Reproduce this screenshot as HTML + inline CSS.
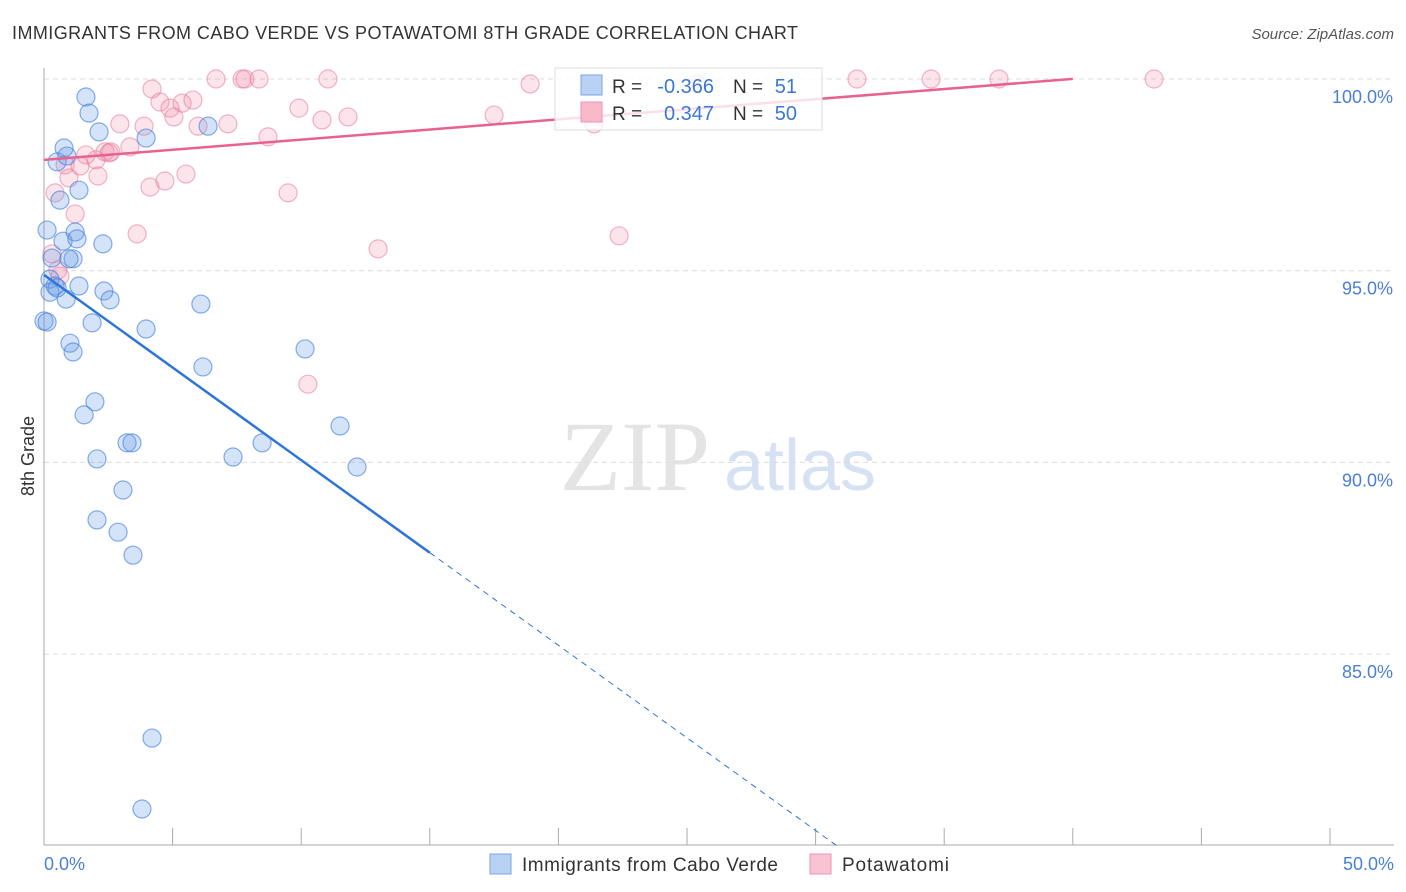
<!DOCTYPE html>
<html><head><meta charset="utf-8"><style>
body{margin:0;background:#fff;font-family:"Liberation Sans",sans-serif;}
svg{display:block}
</style></head><body>
<svg id="c" width="1406" height="892"></svg>
<script>
const blueX=[1.63,1.75,2.14,3.97,6.38,0.78,0.51,0.89,1.36,0.62,0.12,1.21,0.74,1.28,2.29,0.31,1.13,0.97,0.23,0.43,1.36,2.33,2.57,0.86,0.23,6.10,0.0,1.87,3.97,1.01,1.13,10.15,6.18,1.98,1.56,11.51,3.23,3.42,8.48,7.35,2.06,12.17,3.07,2.06,2.88,3.46,4.20,3.81,0.51,0.12];
const blueY=[99.53,99.11,98.62,98.46,98.77,98.20,97.84,97.99,97.10,96.84,96.06,96.01,95.77,95.83,95.70,95.33,95.31,95.31,94.78,94.60,94.60,94.47,94.24,94.26,94.44,94.13,93.69,93.64,93.48,93.11,92.88,92.96,92.49,91.58,91.24,90.95,90.51,90.51,90.51,90.14,90.09,89.88,89.28,88.50,88.18,87.58,82.81,80.96,94.55,93.66];
const pinkX=[4.20,6.69,7.70,7.81,8.36,11.04,18.90,25.39,31.61,34.49,37.13,43.16,4.51,4.90,5.37,5.79,5.05,2.95,3.89,7.15,5.99,9.91,10.81,11.82,17.50,21.38,8.71,3.34,1.63,2.37,2.60,2.02,0.82,1.40,2.10,0.43,4.12,4.70,5.52,9.49,1.21,3.62,12.99,22.36,0.31,0.54,0.62,10.26,0.97,2.53];
const pinkY=[99.74,100,100,100,100,100,99.87,99.87,100,100,100,100,99.40,99.24,99.37,99.45,99.01,98.83,98.77,98.83,98.77,99.24,98.93,99.01,99.06,98.83,98.49,98.23,98.02,98.10,98.10,97.89,97.76,97.73,97.47,97.03,97.18,97.34,97.52,97.03,96.48,95.96,95.57,95.91,95.44,95.02,94.86,92.04,97.42,98.07];
const yTicks=[100,95,90,85];
const yTickLabels=["100.0%","95.0%","90.0%","85.0%"];
const blueTrend={b0:94.89,slope:-0.483,solidEnd:15,end:30};
const pinkTrend={b0:97.89,slope:0.0528,end:40};

const NS="http://www.w3.org/2000/svg";
const svg=document.getElementById('c');
const sx=v=>44+v*25.72;
const sy=v=>79+(100-v)*38.34;
function el(tag,attrs,parent){const e=document.createElementNS(NS,tag);for(const k in attrs)e.setAttribute(k,attrs[k]);(parent||svg).appendChild(e);return e;}

let t=el('text',{x:12,y:39,'font-size':18,fill:'#333',textLength:786});t.textContent="IMMIGRANTS FROM CABO VERDE VS POTAWATOMI 8TH GRADE CORRELATION CHART";


t=el('text',{x:1394,y:39,'font-size':15,fill:'#555','text-anchor':'end','font-style':'italic'});t.textContent="Source: ZipAtlas.com";



t=el('text',{x:635,y:490,'font-size':100,fill:'#e4e4e4','text-anchor':'middle','font-family':'Liberation Serif,serif'});t.textContent="ZIP";


t=el('text',{x:800,y:490,'font-size':72,fill:'#d6e2f3','text-anchor':'middle'});t.textContent="atlas";



yTicks.forEach((v,i)=>{
  const g=el('line',{x1:44,x2:1394,y1:sy(v),y2:sy(v),stroke:'#dcdcdc','stroke-dasharray':'5,4'});
  
  
  const l=el('text',{x:1393,y:sy(v)+24,'font-size':18,fill:'#4a7fd4','text-anchor':'end'});l.textContent=yTickLabels[i];
  
  
});
let a=el('line',{x1:44,x2:44,y1:68,y2:845,stroke:'#aaa'});


a=el('line',{x1:44,x2:1394,y1:845,y2:845,stroke:'#aaa'});


for(let i=0;i<=10;i++){const tk=el('line',{x1:sx(i*5),x2:sx(i*5),y1:828,y2:845,stroke:'#aaa'});

}
t=el('text',{x:44,y:870,'font-size':18,fill:'#4a7fd4'});t.textContent="0.0%";


t=el('text',{x:1394,y:870,'font-size':18,fill:'#4a7fd4','text-anchor':'end'});t.textContent="50.0%";


t=el('text',{x:34,y:456,'font-size':18,fill:'#333','text-anchor':'middle',transform:'rotate(-90 34 456)'});t.textContent="8th Grade";



pinkX.forEach((x,i)=>{const c=el('circle',{cx:sx(x),cy:sy(pinkY[i]),r:9,fill:'rgba(240,130,165,0.22)',stroke:'rgba(230,120,155,0.55)','stroke-width':1.2});

});
blueX.forEach((x,i)=>{const c=el('circle',{cx:sx(x),cy:sy(blueY[i]),r:9,fill:'rgba(100,155,230,0.28)',stroke:'rgba(70,130,220,0.65)','stroke-width':1.2});

});

let ln=el('line',{x1:sx(0),y1:sy(pinkTrend.b0),x2:sx(pinkTrend.end),y2:sy(pinkTrend.b0+pinkTrend.slope*pinkTrend.end),stroke:'#e8628f','stroke-width':2.5});


ln=el('line',{x1:sx(0),y1:sy(blueTrend.b0),x2:sx(blueTrend.solidEnd),y2:sy(blueTrend.b0+blueTrend.slope*blueTrend.solidEnd),stroke:'#2f74d8','stroke-width':2.5});


const ext=(blueTrend.b0-80)/(-blueTrend.slope);
ln=el('line',{x1:sx(blueTrend.solidEnd),y1:sy(blueTrend.b0+blueTrend.slope*blueTrend.solidEnd),x2:sx(ext),y2:sy(blueTrend.b0+blueTrend.slope*ext),stroke:'#2f74d8','stroke-width':1,'stroke-dasharray':'6,5'});



const lg=el('g',{});


el('rect',{x:555,y:68,width:267,height:62,fill:'rgba(255,255,255,0.8)',stroke:'#ddd'},lg);
el('rect',{x:581,y:75,width:21,height:20,fill:'#b9d2f4',stroke:'#7aa6e6'},lg);
el('rect',{x:581,y:102,width:21,height:20,fill:'#f8b9cb',stroke:'#ef93b0'},lg);
[[93,'-0.366','51'],[120,'0.347','50']].forEach(r=>{
  let a=el('text',{x:612,y:r[0],'font-size':19,fill:'#333'},lg);a.textContent='R = ';
  a=el('text',{x:714,y:r[0],'font-size':20,fill:'#3a78d6','text-anchor':'end'},lg);a.textContent=r[1];
  a=el('text',{x:733,y:r[0],'font-size':19,fill:'#333'},lg);a.textContent='N = ';
  a=el('text',{x:797,y:r[0],'font-size':20,fill:'#3a78d6','text-anchor':'end'},lg);a.textContent=r[2];
});

const bl=el('g',{});


el('rect',{x:490,y:854,width:21,height:20,fill:'#b9d2f4',stroke:'#7aa6e6'},bl);
t=el('text',{x:522,y:871,'font-size':19,fill:'#333',textLength:256});t.textContent="Immigrants from Cabo Verde";
bl.appendChild(t);
el('rect',{x:810,y:854,width:21,height:20,fill:'#f8c3d2',stroke:'#ef93b0'},bl);
t=el('text',{x:842,y:871,'font-size':19,fill:'#333',textLength:107},bl);t.textContent="Potawatomi";
</script>
</body></html>
